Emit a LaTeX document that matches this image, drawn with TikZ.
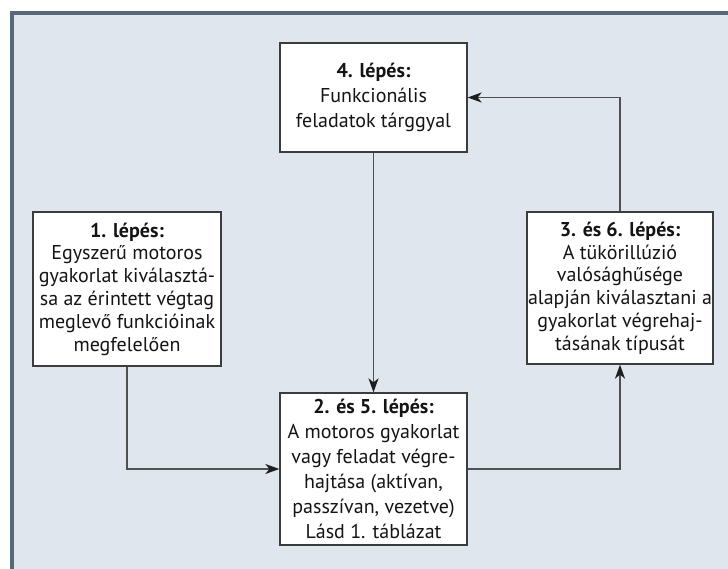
\documentclass[tikz,border=0pt]{standalone}
\usepackage{fontspec}
\setmainfont{PT Sans}
\usetikzlibrary{arrows.meta}
\definecolor{framefill}{HTML}{DFE6EE}
\definecolor{frameline}{HTML}{56697A}
\definecolor{boxline}{HTML}{3C3C3C}
\definecolor{conline}{HTML}{505050}
\definecolor{tipcol}{HTML}{1E1E1E}
\definecolor{txt}{HTML}{141414}
\tikzset{
  stepbox/.style={draw=boxline, fill=white, line width=1.3pt, align=center,
    inner sep=0pt, text=txt},
  tight/.style={font=\fontsize{20}{22.8}\selectfont},
  loose/.style={font=\fontsize{20}{25}\selectfont},
  conn/.style={draw=conline, line width=1.7pt,
    -{Stealth[length=14pt,width=10pt,inset=4pt,color=tipcol]}},
}
\begin{document}
\begin{tikzpicture}[x=1pt,y=-1pt]
\useasboundingbox (0,0) rectangle (728,569);
\begin{scope}
\clip (0,0) rectangle (728,569);
\fill[white] (0,0) rectangle (728,569);
\draw[fill=framefill, draw=frameline, line width=4pt] (12,13) rectangle (760,600);
\end{scope}
\node[stepbox, loose, minimum width=187pt, minimum height=109pt] (b4) at (373.5,97.5)
  {\textbf{4. lépés:}\\Funkcionális\\feladatok tárggyal};
\node[stepbox, tight, minimum width=188pt, minimum height=154pt] (b1) at (127,289)
  {\textbf{1. lépés:}\\Egyszerű motoros\\gyakorlat kiválasztá-\\sa az érintett végtag\\meglevő funkcióinak\\megfelelően};
\node[stepbox, tight, minimum width=186pt, minimum height=152pt] (b3) at (620,288)
  {\textbf{3. és 6. lépés:}\\A tükörillúzió\\valósághűsége\\alapján kiválasztani a\\gyakorlat végrehaj-\\tásának típusát};
\node[stepbox, loose, minimum width=187pt, minimum height=152pt] (b2) at (373.5,469)
  {\textbf{2. és 5. lépés:}\\A motoros gyakorlat\\vagy feladat végre-\\hajtása (aktívan,\\passzívan, vezetve)\\Lásd 1. táblázat};
\draw[conn] (b1.south) |- (b2.west);
\draw[conn] (b4.south) -- (b2.north);
\draw[conn] (b2.east) -| (b3.south);
\draw[conn] (b3.north) |- (b4.east);
\end{tikzpicture}
\end{document}
